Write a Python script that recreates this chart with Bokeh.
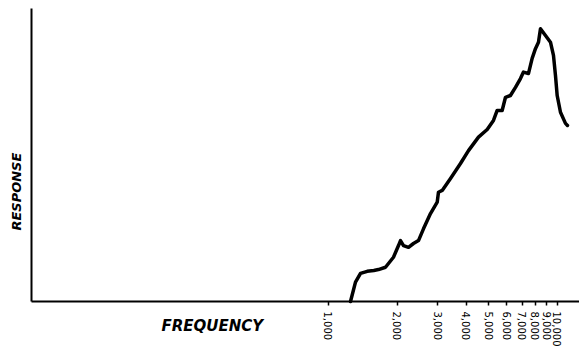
import math
from bokeh.plotting import figure
from bokeh.models import FixedTicker, NumeralTickFormatter, Label, Range1d
from bokeh.embed import file_html
from bokeh.resources import INLINE

# ---- data ----
freq_hz = [1248, 1312, 1380, 1476, 1577, 1653, 1774, 1922, 2022, 2063, 2126, 2236,
           2350, 2472, 2599, 2789, 2984, 3022, 3138, 3411, 3771, 4087, 4519, 4932,
           5254, 5453, 5733, 5929, 6232, 6555, 6893, 7104, 7469, 7752, 8014, 8260,
           8429, 8864, 9320, 9606, 9802, 9970, 10306, 10838, 11058]
response = [0, 6.6, 9.6, 10.3, 10.6, 10.9, 11.7, 15.1, 19.1, 20.8, 19.1, 18.5,
            19.8, 20.8, 24.8, 30.0, 33.9, 37.3, 37.9, 42.0, 47.1, 51.5, 56.1, 58.7,
            61.8, 65.2, 65.2, 69.7, 70.3, 73.1, 76.1, 78.3, 77.8, 83.0, 86.3, 88.5,
            93.1, 90.8, 88.5, 84.0, 77.1, 70.3, 64.6, 60.8, 60.1]
tick_values = [1000, 2000, 3000, 4000, 5000, 6000, 7000, 8000, 9000, 10000]
tick_labels = ["1,000", "2,000", "3,000", "4,000", "5,000", "6,000", "7,000",
               "8,000", "9,000", "10,000"]
x_title = "FREQUENCY"
y_title = "RESPONSE"

# axis extents (data units)
f_min, f_max = 50.5, 12479
r_min, r_max = 0, 100

p = figure(width=579, height=350, x_axis_type="log",
           x_range=Range1d(36.96, 12479), y_range=Range1d(-16.72, 102.73),
           output_backend="svg", toolbar_location=None,
           min_border_left=0, min_border_right=0, min_border_top=0,
           min_border_bottom=0)
p.outline_line_color = None
p.xgrid.grid_line_color = None
p.ygrid.grid_line_color = None
p.background_fill_color = "white"
p.border_fill_color = "white"

p.line(freq_hz, response, line_color="black", line_width=3.5,
       line_join="round", line_cap="round")

# x axis, pinned at response = 0
xa = p.xaxis[0]
xa.fixed_location = r_min
xa.bounds = (f_min, f_max)
xa.ticker = FixedTicker(ticks=tick_values)
xa.formatter = NumeralTickFormatter(format="0,0")
xa.major_label_overrides = {v: l for v, l in zip(tick_values, tick_labels)}
xa.major_label_orientation = -math.pi / 2
xa.major_label_text_font = "DejaVu Sans"
xa.major_label_text_font_size = "10px"
xa.major_label_text_color = "black"
xa.major_label_standoff = 6
xa.axis_line_color = "black"
xa.axis_line_width = 2
xa.major_tick_line_color = "black"
xa.major_tick_line_width = 1.5
xa.major_tick_out = 4
xa.major_tick_in = 0
xa.minor_tick_line_color = None

# y axis (line only), pinned at the lowest frequency
ya = p.yaxis[0]
ya.fixed_location = f_min
ya.bounds = (r_min, r_max)
ya.ticker = FixedTicker(ticks=[])
ya.major_label_text_font_size = "0px"
ya.axis_line_color = "black"
ya.axis_line_width = 2
ya.major_tick_line_color = None
ya.minor_tick_line_color = None

p.add_layout(Label(x=311, y=-8.2, text=x_title, text_align="center",
                   text_baseline="middle", text_font="DejaVu Sans",
                   text_font_style="bold italic", text_font_size="15px",
                   text_color="black"))
p.add_layout(Label(x=43.4, y=37.5, text=y_title, angle=math.pi / 2,
                   text_align="center", text_baseline="middle",
                   text_font="DejaVu Sans", text_font_style="bold italic",
                   text_font_size="13px", text_color="black"))

open("out.html", "w").write(file_html(p, INLINE))
